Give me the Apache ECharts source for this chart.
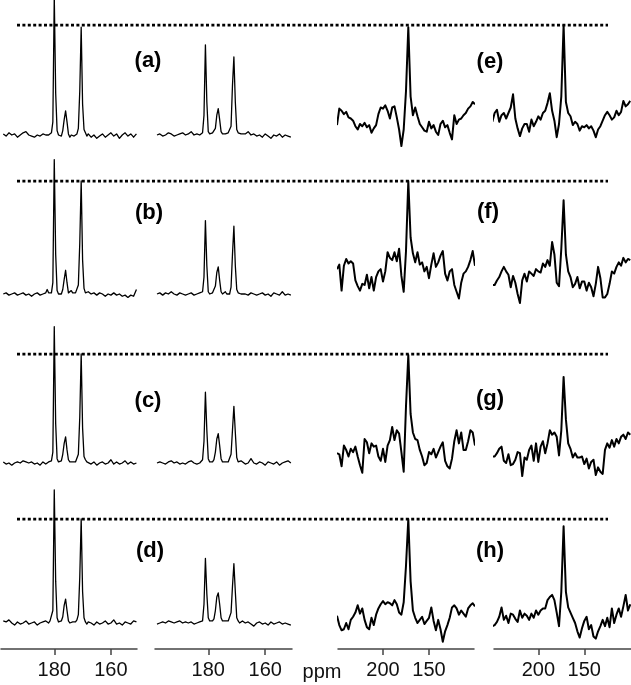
<!DOCTYPE html>
<html><head><meta charset="utf-8">
<script src="https://cdn.jsdelivr.net/npm/echarts@6/dist/echarts.min.js"></script>
<style>html,body{margin:0;padding:0;background:#fff}#c{width:631px;height:685px}</style>
</head><body><div id="c"></div><script>
// chemical shift grids (ppm)
const leftPpm = [198,197,196,195,194,193,192,191,190,189,188,187,186,185,184,183,
 182.5,182,181.5,181,180.5,180,179.5,179,178.5,178,177.5,177,176.5,176,175.5,175,174.5,174,173.5,173,172.5,172,171.5,171,170.5,170,169.5,169,168.5,168,
 167,166,165,164,163,162,161,160,159,158,157,156,155,154,153,152,151];
const rightPpm = [250,247.5,245,242.5,240,237.5,235,232.5,230,227.5,225,222.5,220,217.5,215,212.5,210,207.5,205,202.5,200,197.5,195,192.5,190,187.5,185,182.5,180,177.5,175,172.5,170,167.5,165,162.5,160,157.5,155,152.5,150,147.5,145,142.5,140,137.5,135,132.5,130,127.5,125,122.5,120,117.5,115,112.5,110,107.5,105,102.5,100];

// intensities (dashed reference level = 100)
const specA1 = [1,-1,2,0,1,-2,0,2,3,0,-1,-2,0,-1,1,0,
 1,0,1,2,12,126,38,4,0,1,-1,4,14,22,12,1,-2,0,1,-1,0,1,6,40,98,28,5,2,-1,1,
 -2,0,-3,-1,1,-2,0,2,-1,1,-3,0,2,-1,1,-2,1];
const specA2 = [0,1,-1,0,2,1,-1,0,1,2,0,1,3,0,1,0,
 1,2,18,82,30,3,1,0,2,1,6,18,24,14,3,1,0,1,0,2,1,8,45,71,30,5,2,3,1,2,
 1,3,0,1,-1,0,-2,1,-1,-3,0,-1,1,-2,0,-1,-2];
const specB1 = [0,1,-1,0,1,-1,0,1,-1,0,-2,0,1,-1,0,1,
 4,1,0,1,10,119,35,3,0,1,0,4,13,21,10,1,2,3,1,0,1,2,8,45,100,30,5,1,0,2,
 0,1,-1,1,0,-2,0,-1,1,-1,0,-2,-1,-3,-1,-2,4];
const specB2 = [0,1,-1,1,0,2,0,-1,1,0,-1,0,1,-1,0,1,
 0,2,15,65,25,2,0,-1,1,2,7,19,24,12,2,0,1,2,0,1,0,6,35,60,25,4,1,2,0,1,
 0,-1,1,0,-1,0,1,-1,0,-2,1,0,-1,2,-1,0,-1];
const specC1 = [1,-1,0,-2,0,1,0,2,1,0,1,-1,0,-2,1,-1,
 0,1,0,2,10,125,36,4,1,2,2,8,18,24,12,3,1,0,1,0,1,2,8,42,100,32,6,3,1,2,
 -1,1,-2,0,1,-1,0,3,-1,1,-1,0,2,-1,1,-1,0];
const specC2 = [0,1,0,-1,1,2,0,1,-1,0,-1,1,2,0,-1,0,
 1,3,20,65,30,4,1,0,1,3,10,22,27,16,4,1,0,1,0,1,2,8,30,52,28,5,1,0,2,1,
 -1,0,4,0,-1,1,0,-2,1,0,-1,1,-2,0,1,2,0];
const specD1 = [2,1,3,0,-2,1,-1,0,2,-1,0,1,-2,0,1,2,
 1,0,2,3,12,128,40,5,1,0,2,6,17,23,12,2,0,-1,1,0,1,3,8,44,100,30,5,1,-1,1,
 0,-2,1,-1,0,2,-1,0,3,-1,0,-2,1,0,-1,2,1];
const specD2 = [-1,0,1,0,2,1,0,1,2,0,1,0,1,-1,0,1,
 0,2,18,62,28,5,2,1,2,4,12,25,29,18,5,2,1,2,1,2,3,10,35,57,30,5,2,0,1,2,
 0,1,-1,-3,0,1,-1,0,-2,1,-1,0,1,-1,0,-1,-2];

const specE1 = [9,24,22,19,21,16,15,13,8,5,10,8,11,7,9,2,6,9,19,25,24,27,22,15,25,26,16,5,-10,5,40,98,35,18,25,17,10,7,4,3,12,6,9,3,0,10,13,7,9,2,-4,18,10,14,15,18,20,24,26,30,28];
const specE2 = [12,20,23,12,18,20,15,20,25,37,15,6,-1,6,10,10,3,14,8,12,17,14,20,22,29,38,22,13,-2,10,35,100,30,20,17,9,12,10,4,8,7,9,6,8,4,-2,5,8,13,18,21,18,14,16,22,18,21,31,26,28,31];
const specF1 = [22,26,3,25,31,27,29,27,12,7,3,9,8,17,5,15,3,15,20,22,11,20,37,32,30,37,29,40,16,2,38,100,50,36,28,37,26,28,20,24,14,26,36,24,28,34,38,18,12,20,22,8,2,-4,10,18,20,24,30,38,25];
const specF2 = [8,8,12,15,20,24,20,17,6,16,10,0,-8,12,18,11,20,18,16,22,20,19,27,24,30,25,46,35,10,7,40,83,35,20,15,6,9,15,5,11,11,3,10,6,-2,9,24,14,-3,-3,0,9,20,18,24,28,25,32,28,31,30];
const specG1 = [9,8,-3,16,12,6,13,10,15,6,-2,-9,22,19,9,18,15,16,6,2,13,1,16,21,33,21,30,27,10,-8,52,99,45,28,22,21,12,6,-2,0,10,8,13,5,10,15,19,2,-3,-5,4,20,30,18,28,12,12,20,30,28,16];
const specG2 = [6,6,9,13,15,2,0,8,-2,-1,3,10,9,-12,5,3,12,16,2,18,1,15,20,9,18,30,26,28,24,7,30,79,40,18,13,5,9,5,5,6,-1,4,-5,1,3,-11,-4,-8,-10,12,18,14,21,15,22,18,24,26,22,28,26];
const specH1 = [7,-2,-7,-6,0,-6,3,6,10,17,9,14,3,-4,-6,5,-2,8,14,18,21,18,20,19,17,22,18,10,8,20,55,100,40,12,5,0,3,6,-1,2,5,15,2,-7,3,-6,-18,-8,-2,5,15,17,14,8,12,9,6,14,17,19,16];
const specH2 = [-3,-2,1,6,15,3,7,0,9,8,4,1,12,5,9,7,3,9,5,12,8,12,14,14,22,25,27,22,10,-3,30,93,30,15,10,5,0,-8,-14,-5,2,6,-6,-2,-13,-15,-8,-3,3,-3,5,-4,14,0,8,14,6,16,27,12,18];

const panelRows = [
  [specA1, specA2, specE1, specE2],
  [specB1, specB2, specF1, specF2],
  [specC1, specC2, specG1, specG2],
  [specD1, specD2, specH1, specH2]
];
const leftLabels = ['(a)','(b)','(c)','(d)'];
const rightLabels = ['(e)','(f)','(g)','(h)'];
const leftTicks = [180, 160];
const rightTicks = [200, 150];
const dashLevel = 100;

// layout
const rowBase = [135, 294, 463, 623];
const rowDash = [25, 181, 354, 519];
const colLeft = [1, 155, 338, 494];
const colWidth = [136, 137, 136, 137];
const colMax = [198.8, 198.7, 248.9, 248.2];
const colMin = [150.8, 150.6, 101.1, 99.2];
const yMin = -25, yMax = 100;
const leftLabelPos = [[148,61],[149,213],[148,401],[150,551]];
const rightLabelPos = [[490,62],[488,212],[490,399],[490,551]];

const grid = [], xAxis = [], yAxis = [], series = [];
const axisFont = 'Liberation Sans, Arial, sans-serif';
for (let r = 0; r < 4; r++) {
  const ppu = (rowBase[r] - rowDash[r]) / 100;
  const top = rowDash[r] - (yMax - 100) * ppu;
  const height = (yMax - yMin) * ppu;
  for (let c = 0; c < 4; c++) {
    const gi = grid.length;
    grid.push({left: colLeft[c], width: colWidth[c], top: top, height: height});
    const isBottom = r === 3;
    const ticks = c < 2 ? leftTicks : rightTicks;
    xAxis.push({
      gridIndex: gi, type: 'value', inverse: true, min: colMin[c], max: colMax[c],
      show: isBottom,
      axisLine: {show: true, onZero: false, lineStyle: {color: '#444', width: 1.5}},
      axisTick: {show: true, length: 6, inside: false, customValues: ticks, lineStyle: {color: '#444', width: 1.5}},
      axisLabel: {show: true, customValues: ticks, fontSize: 20, color: '#111', fontFamily: axisFont, margin: 11},
      splitLine: {show: false}
    });
    yAxis.push({gridIndex: gi, type: 'value', min: yMin, max: yMax, show: false, splitLine: {show: false}});
    const ppm = c < 2 ? leftPpm : rightPpm;
    const vals = panelRows[r][c];
    series.push({
      type: 'line', xAxisIndex: gi, yAxisIndex: gi, clip: false, silent: true,
      symbol: 'none', showSymbol: false,
      lineStyle: {color: '#000', width: c < 2 ? 1.3 : 2, join: 'round'},
      data: ppm.map((p, i) => [p, vals[i]])
    });
  }
  // dotted reference line across the row
  const gi = grid.length;
  grid.push({left: 17, width: 591, top: top, height: height});
  xAxis.push({gridIndex: gi, type: 'value', min: 0, max: 1, show: false, splitLine: {show: false}});
  yAxis.push({gridIndex: gi, type: 'value', min: yMin, max: yMax, show: false, splitLine: {show: false}});
  series.push({
    type: 'line', xAxisIndex: gi, yAxisIndex: gi, silent: true, symbol: 'none', z: 3,
    lineStyle: {color: '#000', width: 3, type: [3, 2.4], cap: 'butt'},
    data: [[0, dashLevel], [1, dashLevel]]
  });
}

const graphic = [];
for (let r = 0; r < 4; r++) {
  graphic.push({type: 'text', x: leftLabelPos[r][0], y: leftLabelPos[r][1],
    style: {text: leftLabels[r], font: 'bold 22px Liberation Sans, Arial, sans-serif', fill: '#000', textAlign: 'center', textVerticalAlign: 'middle'}});
  graphic.push({type: 'text', x: rightLabelPos[r][0], y: rightLabelPos[r][1],
    style: {text: rightLabels[r], font: 'bold 22px Liberation Sans, Arial, sans-serif', fill: '#000', textAlign: 'center', textVerticalAlign: 'middle'}});
}
graphic.push({type: 'text', x: 322, y: 672,
  style: {text: 'ppm', font: '20px Liberation Sans, Arial, sans-serif', fill: '#111', textAlign: 'center', textVerticalAlign: 'middle'}});

const chart = echarts.init(document.getElementById('c'), null, {renderer: 'canvas'});
chart.setOption({animation: false, backgroundColor: '#fff', grid, xAxis, yAxis, series, graphic});
</script></body></html>
